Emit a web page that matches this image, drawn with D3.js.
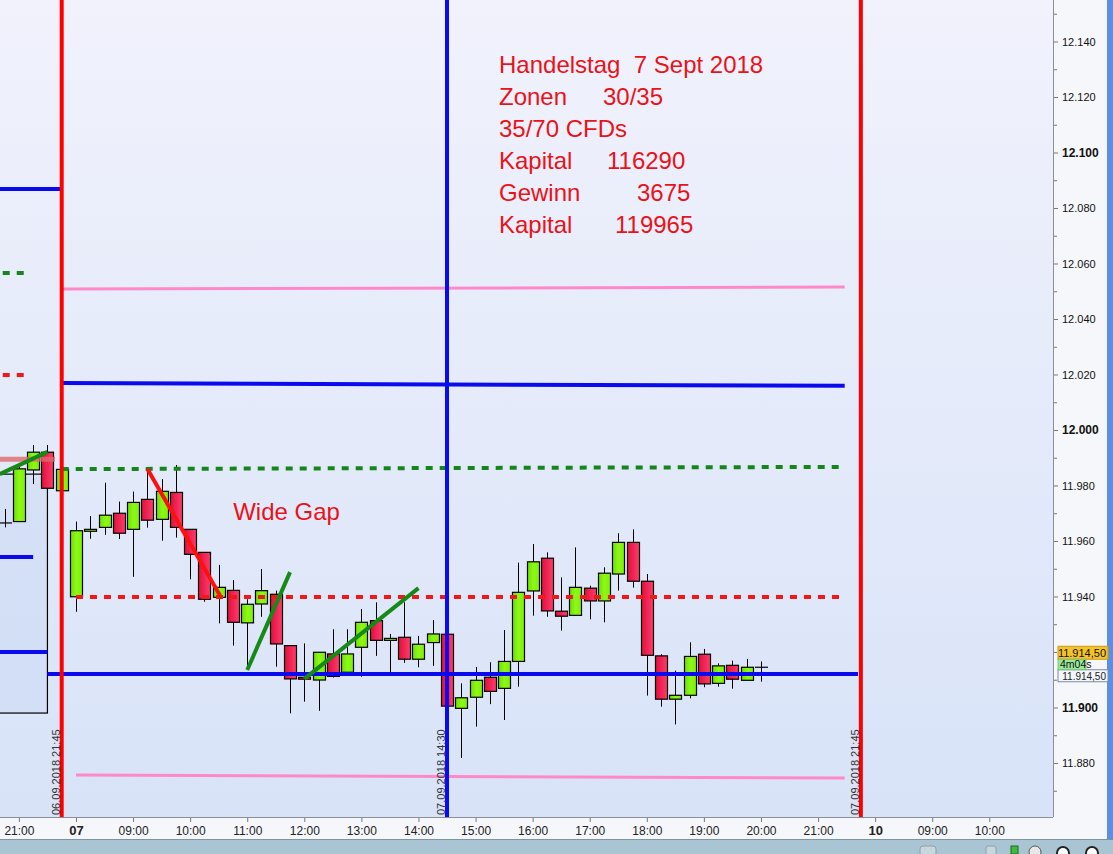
<!DOCTYPE html>
<html><head><meta charset="utf-8">
<script src="https://cdn.jsdelivr.net/npm/d3@7"></script>
<style>
html,body{margin:0;padding:0;background:#fff;}
svg{display:block;font-family:"Liberation Sans",Arial,sans-serif;}
</style></head>
<body>
<svg id="c" width="1113" height="854"></svg>
<script>
// ---------------- DATA ----------------
const candleTimes = ["06 20:45","06 21:00","06 21:15","06 21:30","06 21:45",
 "07 08:00","07 08:15","07 08:30","07 08:45","07 09:00","07 09:15","07 09:30","07 09:45",
 "07 10:00","07 10:15","07 10:30","07 10:45","07 11:00","07 11:15","07 11:30","07 11:45",
 "07 12:00","07 12:15","07 12:30","07 12:45","07 13:00","07 13:15","07 13:30","07 13:45",
 "07 14:00","07 14:15","07 14:30","07 14:45","07 15:00","07 15:15","07 15:30","07 15:45",
 "07 16:00","07 16:15","07 16:30","07 16:45","07 17:00","07 17:15","07 17:30","07 17:45",
 "07 18:00","07 18:15","07 18:30","07 18:45","07 19:00","07 19:15","07 19:30","07 19:45","07 20:00"];
const opens  = [11966.5,11967,11985.6,11992,11978.1,
 11939.9,11963.5,11964.9,11970,11964.2,11975,11967.8,11977.5,
 11964.2,11955.9,11939.7,11942.2,11930.5,11937.3,11940.8,11922.3,
 11910.9,11909.9,11919.3,11912.7,11921.7,11931.3,11924.2,11925.3,
 11917.4,11923.4,11926.4,11899.7,11903.7,11910.9,11906.9,11916.6,
 11942,11953.8,11934.7,11933.2,11943,11938.4,11948.1,11959.5,
 11945.5,11918.6,11903,11904.4,11919.2,11908.7,11915.2,11909.8,11914.5];
const highs  = [11971.5,11988,11994.6,11994.6,11986,
 11967,11969,11981,11974.2,11977.8,11985.8,11982.3,11987.4,
 11964.2,11955.9,11951.4,11945.9,11939,11949.9,11942.1,11922.3,
 11923.1,11920,11928.2,11928.2,11935.5,11937.9,11926.5,11937.9,
 11925.8,11931.5,11926.4,11908.7,11914.6,11916.3,11927.9,11952.2,
 11958.9,11955.9,11946.9,11957.7,11943.9,11950.5,11962.8,11964.2,
 11948.1,11919.2,11913.3,11923.5,11921.1,11915.9,11916.9,11917.5,11916.6];
const lows   = [11964.9,11967,11980.5,11979,11978,
 11934.5,11960.8,11962.2,11960.7,11947.1,11964.8,11960.1,11961.2,
 11946.2,11938.1,11930.3,11922.3,11913.5,11932.7,11914.7,11897.9,
 11902.1,11898.8,11910.8,11912,11911.1,11918.6,11912.3,11916.1,
 11914.5,11915,11900.5,11881.8,11893.1,11901.2,11895.5,11907.5,
 11933.1,11932.7,11927.7,11933.2,11931.8,11930.7,11942.1,11943.2,
 11904.3,11900.3,11893.9,11903.3,11907.3,11907.5,11906.8,11909.8,11909.3];
const closes = [11966.5,11986,11992,11979,11985.8,
 11963.7,11964.2,11969.3,11962.8,11973.9,11967.5,11977.9,11964.9,
 11955.2,11939,11943.3,11930.7,11937.2,11942.1,11922.9,11910.3,
 11910.2,11919.9,11911.2,11919.3,11930.7,11924.2,11924.9,11917.4,
 11922.8,11926.5,11900.5,11903.5,11909.8,11905.8,11916.6,11941.5,
 11952.5,11934.8,11932.9,11943.3,11938.4,11948.4,11959.5,11945.5,
 11918.8,11903,11904.4,11918.4,11908.5,11915,11910.2,11914.5,11914.5];

// horizontal levels: kind, start time, end time, start value, end value
const levelKinds  = ["blue","greenDash","redDash","salmon","blue","blue",
                     "pink","blue","greenDash","redDash","blue","pink"];
const levelStart  = ["06 19:00","06 19:00","06 19:00","06 19:00","06 19:00","06 19:00",
                     "06 21:45","06 21:45","06 21:45","07 08:00","06 21:30","07 08:00"];
const levelEnd    = ["06 21:45","06 21:10","06 21:10","06 21:38","06 21:15","06 21:30",
                     "07 21:28","07 21:28","07 21:23","07 21:23","07 21:42","07 21:28"];
const levelV0     = [12086.8,12056.6,12019.8,11989.5,11954.2,11920,
                     12050.8,12016.9,11985.9,11939.8,11912.1,11875.7];
const levelV1     = [12086.8,12056.6,12019.8,11989.5,11954.2,11920,
                     12051.5,12015.9,11986.7,11939.8,11912.1,11874.6];

// trend lines
const trendKinds = ["green","red","green","green"];
const trendT0 = ["06 20:40","07 09:15","07 11:00","07 12:00"];
const trendT1 = ["06 21:30","07 10:32","07 11:45","07 14:00"];
const trendV0 = [11984.1,11986,11913.5,11910.3];
const trendV1 = [11992.1,11940,11948.8,11943];

// vertical session lines
const vTimes  = ["06 21:45","07 14:30","07 21:45"];
const vKinds  = ["red","blue","red"];
const vLabels = ["06.09.2018 21:45","07.09.2018 14:30","07.09.2018 21:45"];

// range box (previous session)
const boxT = ["06 19:00","06 21:30"];
const boxV = [11984.1,11898];

// axis ticks
const xTickTimes  = ["06 21:00","07 08:00","07 09:00","07 10:00","07 11:00","07 12:00","07 13:00","07 14:00",
                     "07 15:00","07 16:00","07 17:00","07 18:00","07 19:00","07 20:00","07 21:00","10 08:00","10 09:00","10 10:00"];
const xTickLabels = ["21:00","07","09:00","10:00","11:00","12:00","13:00","14:00",
                     "15:00","16:00","17:00","18:00","19:00","20:00","21:00","10","09:00","10:00"];
const yTicks = [11880,11900,11940,11960,11980,12000,12020,12040,12060,12080,12100,12120,12140];
const yMinorTicks = [11870,11890,11910,11920,11930,11950,11970,11990,12010,12030,12050,12070,12090,12110,12130,12150];
const yBoldTicks = [11900,12000,12100];

const lastPrice = "11.914,50";
const countdown = "4m04s";

const infoLabels = ["Handelstag  7 Sept 2018","Zonen","35/70 CFDs","Kapital","Gewinn","Kapital"];
const infoValues = ["","30/35","","116290","3675","119965"];
const noteText = "Wide Gap";
const noteTime = "07 11:00";
const noteValue = 11976;

// ---------------- CHART ----------------
const W = 1113, H = 854;
const plotR = 1053, plotB = 817;
function tu(s){
  const [d, hm] = s.split(" ");
  const [h, m] = hm.split(":").map(Number);
  const hh = h + m/60;
  if (d === "06") return hh - 22;
  if (d === "07") return hh - 8;
  return hh - 8 + 14;
}
const x = d3.scaleLinear().domain([-1.331, 17.116]).range([0, plotR]);
const y = d3.scaleLinear().domain([11860.54, 12154.95]).range([plotB, 0]);
const bodyW = 12;

const svg = d3.select("#c");
const defs = svg.append("defs");
const bg = defs.append("linearGradient").attr("id","bg").attr("x1",0).attr("y1",0).attr("x2",0).attr("y2",1);
bg.append("stop").attr("offset","0%").attr("stop-color","#f1f2fc");
bg.append("stop").attr("offset","100%").attr("stop-color","#d8e3f8");
const gG = defs.append("linearGradient").attr("id","gG").attr("x1",0).attr("y1",0).attr("x2",1).attr("y2",0);
gG.append("stop").attr("offset","0%").attr("stop-color","#6ee000");
gG.append("stop").attr("offset","50%").attr("stop-color","#8cf81a");
gG.append("stop").attr("offset","100%").attr("stop-color","#7ef000");
const gR = defs.append("linearGradient").attr("id","gR").attr("x1",0).attr("y1",0).attr("x2",1).attr("y2",0);
gR.append("stop").attr("offset","0%").attr("stop-color","#e0103c");
gR.append("stop").attr("offset","100%").attr("stop-color","#ff3c6c");
defs.append("clipPath").attr("id","clip").append("rect").attr("x",0).attr("y",0).attr("width",plotR).attr("height",plotB);

// backgrounds
svg.append("rect").attr("width",W).attr("height",H).attr("fill","#f6f7fb");
svg.append("rect").attr("x",0).attr("y",0).attr("width",plotR).attr("height",plotB).attr("fill","url(#bg)");
svg.append("rect").attr("x",1107).attr("y",0).attr("width",6).attr("height",839).attr("fill","#5b8fe6");

const plot = svg.append("g").attr("clip-path","url(#clip)");

// range box
plot.append("rect")
  .attr("x", x(tu(boxT[0]))).attr("y", y(boxV[0]))
  .attr("width", x(tu(boxT[1])) - x(tu(boxT[0]))).attr("height", y(boxV[1]) - y(boxV[0]))
  .attr("fill","#c8d6f2").attr("fill-opacity",0.45).attr("stroke","#000").attr("stroke-width",1.2);

// candles
const candles = candleTimes.map((t,i)=>({t:tu(t),o:opens[i],h:highs[i],l:lows[i],c:closes[i]}));
const cg = plot.append("g");
candles.forEach(d=>{
  const cx = Math.round(x(d.t)) + 0.5;
  cg.append("line").attr("x1",cx).attr("x2",cx).attr("y1",y(d.h)).attr("y2",y(d.l))
    .attr("stroke","#000").attr("stroke-width",1);
  if (Math.abs(d.o - d.c) < 0.05) {
    cg.append("line").attr("x1",cx-6.5).attr("x2",cx+6.5).attr("y1",y(d.o)).attr("y2",y(d.o))
      .attr("stroke","#000").attr("stroke-width",1.2);
  } else {
    const top = y(Math.max(d.o,d.c)), bot = y(Math.min(d.o,d.c));
    cg.append("rect").attr("x",cx-bodyW/2).attr("y",top).attr("width",bodyW).attr("height",Math.max(1.5,bot-top))
      .attr("fill", d.c > d.o ? "url(#gG)" : "url(#gR)").attr("stroke","#000").attr("stroke-width",1.2);
  }
});

// levels
const levelStyle = {
  blue:{stroke:"#0a0aee",w:4,dash:null},
  pink:{stroke:"#ff88c8",w:3,dash:null},
  greenDash:{stroke:"#14861a",w:4,dash:"7,7"},
  redDash:{stroke:"#f01818",w:4,dash:"7,7"},
  salmon:{stroke:"#e06a6a",w:5,dash:null,op:0.8}
};
levelKinds.forEach((k,i)=>{
  const s = levelStyle[k];
  plot.append("line")
    .attr("x1",x(tu(levelStart[i]))).attr("x2",x(tu(levelEnd[i])))
    .attr("y1",y(levelV0[i])).attr("y2",y(levelV1[i]))
    .attr("stroke",s.stroke).attr("stroke-width",s.w)
    .attr("stroke-dasharray",s.dash).attr("stroke-opacity",s.op||1);
});

// trend lines
const trendColor = {green:"#168a16", red:"#ff1010"};
trendKinds.forEach((k,i)=>{
  plot.append("line")
    .attr("x1",x(tu(trendT0[i]))).attr("y1",y(trendV0[i]))
    .attr("x2",x(tu(trendT1[i]))).attr("y2",y(trendV1[i]))
    .attr("stroke",trendColor[k]).attr("stroke-width",4).attr("stroke-linecap","butt");
});

// vertical session lines
const vColor = {red:"#ff0000", blue:"#0a0aee"};
vTimes.forEach((t,i)=>{
  const vx = x(tu(t));
  plot.append("line").attr("x1",vx).attr("x2",vx).attr("y1",0).attr("y2",plotB)
    .attr("stroke",vColor[vKinds[i]]).attr("stroke-width",4);
  svg.append("text").attr("transform",`translate(${vx-2},${plotB-2}) rotate(-90)`)
    .attr("font-size",11).attr("fill","#333").text(vLabels[i]);
});

// info text
const red = "#ea1218";
infoLabels.forEach((s,i)=>{
  svg.append("text").attr("x",499).attr("y",73+i*32).attr("font-size",24).attr("fill",red)
    .attr("xml:space","preserve").style("white-space","pre").text(s);
});
const valueX = [0,603,0,607,637,615];
infoValues.forEach((s,i)=>{
  if (!s) return;
  svg.append("text").attr("x",valueX[i]).attr("y",73+i*32).attr("font-size",24).attr("fill",red).text(s);
});
svg.append("text").attr("x",x(tu(noteTime))-14).attr("y",y(noteValue)+23).attr("font-size",24).attr("fill",red).text(noteText);

// axes frame
svg.append("line").attr("x1",plotR+0.5).attr("x2",plotR+0.5).attr("y1",0).attr("y2",plotB).attr("stroke","#8a8f9a");
svg.append("line").attr("x1",0).attr("x2",plotR).attr("y1",plotB+0.5).attr("y2",plotB+0.5).attr("stroke","#8a8f9a");

// x axis
const xAxis = d3.axisBottom(x).tickValues(xTickTimes.map(tu)).tickSize(4).tickPadding(4)
  .tickFormat((d,i)=>xTickLabels[i]);
const gx = svg.append("g").attr("transform",`translate(0,${plotB+1})`).call(xAxis);
gx.select(".domain").remove();
gx.selectAll(".tick line").attr("stroke","#777");
gx.selectAll(".tick text").attr("fill","#222")
  .attr("font-family","'Liberation Sans',Arial,sans-serif")
  .attr("font-weight",(d,i)=> (xTickLabels[i].length===2 ? "bold" : "normal"))
  .attr("font-size",(d,i)=> (xTickLabels[i].length===2 ? 13 : 12));

// y axis
const loc = d3.formatLocale({decimal:",",thousands:".",grouping:[3],currency:["","€"]});
const fmt = loc.format(",.0f");
const yAxis = d3.axisRight(y).tickValues(yTicks).tickSize(4).tickPadding(4).tickFormat(fmt);
const gy = svg.append("g").attr("transform",`translate(${plotR+1},0)`).call(yAxis);
gy.select(".domain").remove();
gy.selectAll(".tick line").attr("stroke","#777");
gy.selectAll(".tick text").attr("fill","#111")
  .attr("font-family","'Liberation Sans',Arial,sans-serif")
  .attr("font-weight",d=> yBoldTicks.includes(d) ? "bold" : "normal")
  .attr("font-size",d=> yBoldTicks.includes(d) ? 12 : 11);
const gy2 = svg.append("g").attr("transform",`translate(${plotR+1},0)`)
  .call(d3.axisRight(y).tickValues(yMinorTicks).tickSize(3).tickFormat(""));
gy2.select(".domain").remove();
gy2.selectAll(".tick line").attr("stroke","#777");

// price tags
const lastV = closes[closes.length-1];
const tagY = y(lastV);
svg.append("rect").attr("x",1058).attr("y",tagY+2.5).attr("width",50).attr("height",12)
  .attr("fill","#f4f6fb").attr("stroke","#7a8aa8").attr("stroke-width",1);
svg.append("text").attr("x",1106).attr("y",tagY+12.5).attr("text-anchor","end").attr("font-size",10).attr("fill","#222").text(lastPrice);
svg.append("rect").attr("x",1058).attr("y",tagY-21).attr("width",50).attr("height",13)
  .attr("fill","#f6c22a").attr("stroke","#c89a10").attr("stroke-width",1);
svg.append("text").attr("x",1106).attr("y",tagY-10.5).attr("text-anchor","end").attr("font-size",11).attr("fill","#111").text(lastPrice);
svg.append("rect").attr("x",1058).attr("y",tagY-8).attr("width",28).attr("height",10.5)
  .attr("fill","#98e898").attr("stroke","#6cbf6c").attr("stroke-width",0.8);
svg.append("text").attr("x",1060).attr("y",tagY+0.5).attr("font-size",10.5).attr("fill","#111").text(countdown);

// bottom bar
svg.append("rect").attr("x",0).attr("y",839).attr("width",W).attr("height",15).attr("fill","#a9c5d4");
svg.append("line").attr("x1",0).attr("x2",W).attr("y1",839.5).attr("y2",839.5).attr("stroke","#7c95a3");
const bb = svg.append("g");
bb.append("rect").attr("x",920).attr("y",846).attr("width",16).attr("height",10).attr("rx",3).attr("fill","#c8d6de").attr("stroke","#8aa0ac");
bb.append("rect").attr("x",986).attr("y",846).attr("width",10).attr("height",10).attr("rx",2).attr("fill","#c8d6de").attr("stroke","#8aa0ac");
bb.append("rect").attr("x",1011).attr("y",846).attr("width",7).attr("height",8).attr("fill","#3cbc3c").attr("stroke","#226622");
bb.append("circle").attr("cx",1035).attr("cy",852).attr("r",6).attr("fill","#e8e8e8").attr("stroke","#555");
bb.append("circle").attr("cx",1063).attr("cy",853).attr("r",6).attr("fill","#fff").attr("stroke","#222").attr("stroke-width",2);
bb.append("circle").attr("cx",1092).attr("cy",853).attr("r",6).attr("fill","#fff").attr("stroke","#222").attr("stroke-width",2);
</script>
</body></html>
